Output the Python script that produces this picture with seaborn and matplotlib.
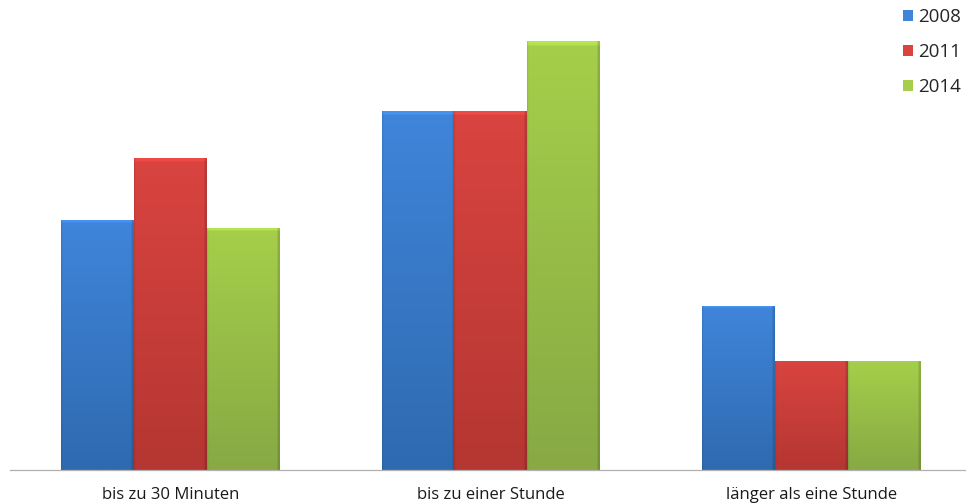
import matplotlib
matplotlib.use("Agg")
import matplotlib.pyplot as plt
import matplotlib.colors as mcolors
from matplotlib.patches import Patch
import seaborn as sns
import numpy as np
import pandas as pd

# Daten (Anteile in %)
kategorien = ["bis zu 30 Minuten", "bis zu einer Stunde", "länger als eine Stunde"]
jahre = ["2008", "2011", "2014"]
werte_2008 = [32, 46, 21]
werte_2011 = [40, 46, 14]
werte_2014 = [31, 55, 14]
farben_oben = ["#3f85da", "#d94440", "#a5cf4a"]
farben_unten = ["#2f6ab0", "#b53632", "#88a944"]

df = pd.DataFrame({
    "kategorie": kategorien * 3,
    "jahr": [j for j in jahre for _ in kategorien],
    "wert": werte_2008 + werte_2011 + werte_2014,
})

sns.set_style("white")
plt.rcParams["font.family"] = ["Open Sans", "DejaVu Sans"]

fig = plt.figure(figsize=(9.66, 5.04), dpi=100)
ax = fig.add_axes([10 / 966, 34 / 504, 956 / 966, 468 / 504])

sns.barplot(data=df, x="kategorie", y="wert", hue="jahr", palette=farben_oben,
            saturation=1, width=0.68, gap=0, legend=False, ax=ax)

# Farbverlauf (oben hell, unten dunkler) auf die Balken legen
farb_map = dict(zip([mcolors.to_hex(c) for c in farben_oben], farben_unten))
for bar in list(ax.patches):
    x0, y0 = bar.get_x(), bar.get_y()
    w, h = bar.get_width(), bar.get_height()
    if h <= 0:
        continue
    oben = np.array(mcolors.to_rgb(bar.get_facecolor()))
    unten = np.array(mcolors.to_rgb(farb_map[mcolors.to_hex(bar.get_facecolor())]))
    ys = np.linspace(0, 1, 200)[:, None, None]
    img = unten + (oben - unten) * ys
    img = np.repeat(img, 60, axis=1)
    # dunklere Kanten links/rechts, heller Streifen oben
    img[:, -2:, :] *= 0.85
    img[:, :1, :] *= 0.92
    img[-2:, :, :] = np.clip(img[-2:, :, :] * 1.1, 0, 1)
    im = ax.imshow(img, extent=[x0, x0 + w, y0, y0 + h], origin="lower",
                   aspect="auto", zorder=3, interpolation="bilinear")
    im.set_clip_path(bar)
    bar.set_edgecolor("none")

ax.set_xlim(-0.5, -0.5 + 956 / 320.5)
ax.set_ylim(0, 60)
ax.set_xlabel("")
ax.set_ylabel("")
ax.set_yticks([])
sns.despine(ax=ax, left=True, top=True, right=True)
ax.spines["bottom"].set_color("#b0b0b0")
ax.spines["bottom"].set_linewidth(0.9)
ax.spines["bottom"].set_zorder(4)

ax.set_xticks([-0.5, 0.5, 1.5], minor=True)
ax.tick_params(axis="x", which="minor", length=6, color="#b0b0b0", width=0.9)
ax.tick_params(axis="x", which="major", length=0, labelsize=12, pad=12, labelcolor="#1a1a1a")

handles = [Patch(facecolor=c, edgecolor="none", label=j) for c, j in zip(farben_oben, jahre)]
fig.legend(handles=handles, loc="upper right", bbox_to_anchor=(1.006, 1.006), frameon=False,
           fontsize=13.5, handlelength=0.55, handleheight=0.55, handletextpad=0.25,
           labelspacing=0.9, borderaxespad=0.2)

fig.savefig("out.png", dpi=100)
